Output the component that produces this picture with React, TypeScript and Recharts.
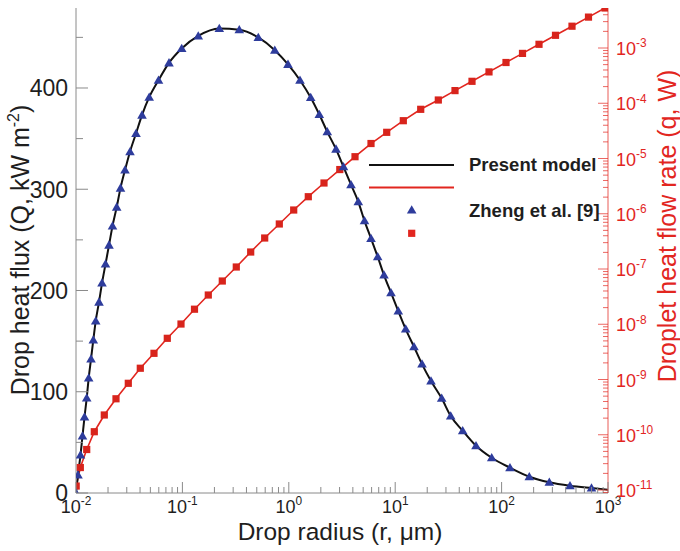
import React from "react";
import { ComposedChart, Line, XAxis, YAxis, Legend } from "recharts";

const FONT = '"Liberation Sans", Arial, Helvetica, sans-serif';
const AXIS_GRAY = "#8a8a8a";
const TEXT_DARK = "#1e1e1e";
const RED = "#e2261f";
const BLUE = "#2e3c9c";

// plot frame inside the 680x551 svg
const PLOT = { left: 76, right: 608, top: 8, bottom: 493 };

// axis ranges and tick labels
const R_DECADES = [0.01, 0.1, 1, 10, 100, 1000];
const MINOR_MULT = [1, 2, 3, 4, 5, 6, 7, 8, 9];
const FLUX_DOMAIN = [0, 479];
const FLUX_TICKS = [0, 50, 100, 150, 200, 250, 300, 350, 400, 450];
const FLUX_LABELS = [0, 100, 200, 300, 400];
const RATE_DOMAIN = [Math.pow(10, -11.054), Math.pow(10, -2.276)];
const RATE_EXPONENTS = [-12, -11, -10, -9, -8, -7, -6, -5, -4, -3];

// Zheng et al. [9] – drop heat flux (kW m^-2) vs drop radius (um)
const ZHENG_R = [
  0.01, 0.01044, 0.01102, 0.01151, 0.01202, 0.01261, 0.01316, 0.01384, 0.01454,
  0.01532, 0.01645, 0.01756, 0.01894, 0.02043, 0.02203, 0.02413, 0.02619, 0.02887,
  0.03218, 0.03664, 0.04172, 0.04875, 0.05962, 0.07481, 0.09849, 0.141, 0.2222,
  0.3425, 0.5168, 0.7385, 0.9829, 1.274, 1.606, 1.935, 2.3, 2.777, 3.267, 3.843,
  4.5, 5.146, 5.924, 6.847, 7.848, 9.131, 10.69, 12.55, 15.02, 17.86, 21.7, 27.35,
  33.24, 43.09, 57.46, 80.72, 119.9, 182.1, 280.8, 439.4, 699.6,
];
const ZHENG_Q = [
  0, 17.8, 37.5, 56.3, 75.0, 93.8, 113.5, 132.3, 151.0, 169.8, 188.5, 207.3, 226.1,
  244.8, 263.6, 282.3, 301.1, 318.9, 337.1, 355.1, 373.2, 390.9, 407.7, 424.8, 439.0,
  451.4, 458.7, 457.5, 449.9, 437.3, 423.3, 407.7, 390.6, 373.8, 356.7, 339.6, 322.1,
  304.5, 287.6, 268.8, 251.4, 233.3, 215.2, 197.7, 179.7, 161.9, 144.4, 127.3, 110.6,
  93.5, 76.0, 61.5, 46.7, 34.8, 25.0, 16.1, 10.6, 7.2, 4.9,
];

// present model flux curve runs on to the 1 mm end of the axis
const MODEL_R = [...ZHENG_R, 1000];
const MODEL_Q = [...ZHENG_Q, 3.3];

// Zheng et al. [9] – droplet heat flow rate (W) vs drop radius (um)
const RATE_R = [
  0.01004, 0.01098, 0.01261, 0.01486, 0.01845, 0.02376, 0.03101, 0.04021, 0.05406,
  0.07212, 0.09701, 0.1299, 0.1751, 0.2371, 0.321, 0.4384, 0.5935, 0.8143, 1.112,
  1.525, 2.142, 3.015, 4.191, 5.924, 8.322, 11.92, 17.37, 25.42, 36.48, 52.71, 76.13,
  110.0, 157.2, 224.7, 321.1, 458.9, 655.6, 937,
];
const RATE_Q = [
  1.18e-11, 2.55e-11, 5.41e-11, 1.135e-10, 2.28e-10, 4.48e-10, 8.54e-10, 1.6e-9,
  2.98e-9, 5.57e-9, 1.01e-8, 1.873e-8, 3.383e-8, 6.065e-8, 1.087e-7, 2.03e-7, 3.64e-7,
  6.53e-7, 1.169e-6, 2.035e-6, 3.603e-6, 6.31e-6, 1.078e-5, 1.868e-5, 2.979e-5,
  4.833e-5, 7.77e-5, 1.145e-4, 1.694e-4, 2.496e-4, 3.693e-4, 5.465e-4, 7.985e-4,
  1.167e-3, 1.698e-3, 2.48e-3, 3.624e-3, 5.3e-3,
];

const fluxPoints = ZHENG_R.map((r, i) => ({ r, Q: ZHENG_Q[i] }));
const modelFlux = MODEL_R.map((r, i) => ({ r, Q: MODEL_Q[i] }));
const ratePoints = RATE_R.map((r, i) => ({ r, q: RATE_Q[i] }));

const xTicks = R_DECADES.flatMap((d, i) =>
  i < R_DECADES.length - 1 ? MINOR_MULT.map((m) => d * m) : [d]
);
const rateTicks = RATE_EXPONENTS.flatMap((e) =>
  MINOR_MULT.map((m) => m * Math.pow(10, e))
).filter((v) => v >= RATE_DOMAIN[0] && v <= RATE_DOMAIN[1]);

function decadeOf(v: number) {
  const e = Math.log10(v);
  return Math.abs(e - Math.round(e)) < 1e-6 ? Math.round(e) : null;
}

function Pow10({ x, y, exp, anchor, size, fill }: any) {
  return (
    <text x={x} y={y} textAnchor={anchor} fontSize={size} fill={fill} fontFamily={FONT}>
      10
      <tspan dy={-size * 0.42} fontSize={size * 0.66}>
        {exp}
      </tspan>
    </text>
  );
}

function BottomTick({ x, payload }: any) {
  const exp = decadeOf(payload.value);
  return (
    <g>
      <line x1={x} x2={x} y1={PLOT.bottom} y2={PLOT.bottom - (exp !== null ? 11 : 6)} stroke={AXIS_GRAY} />
      {exp !== null && <Pow10 x={x} y={PLOT.bottom + 20} exp={exp} anchor="middle" size={18} fill={TEXT_DARK} />}
    </g>
  );
}

function TopTick({ x, payload }: any) {
  const exp = decadeOf(payload.value);
  return <line x1={x} x2={x} y1={PLOT.top} y2={PLOT.top + (exp !== null ? 11 : 6)} stroke={AXIS_GRAY} />;
}

function LeftTick({ y, payload }: any) {
  const labeled = FLUX_LABELS.includes(payload.value);
  return (
    <g>
      <line x1={PLOT.left} x2={PLOT.left + (labeled ? 12 : 7)} y1={y} y2={y} stroke={AXIS_GRAY} />
      {labeled && (
        <text x={PLOT.left - 8} y={y} dy="0.36em" textAnchor="end" fontSize={23} fill={TEXT_DARK} fontFamily={FONT}>
          {payload.value}
        </text>
      )}
    </g>
  );
}

function RightTick({ y, payload }: any) {
  const exp = decadeOf(payload.value);
  return (
    <g>
      <line x1={PLOT.right} x2={PLOT.right - (exp !== null ? 10 : 5)} y1={y} y2={y} stroke={RED} strokeOpacity={0.7} />
      {exp !== null && <Pow10 x={PLOT.right + 8} y={y + 7} exp={exp} anchor="start" size={18} fill={RED} />}
    </g>
  );
}

function Triangle({ cx, cy, fill }: any) {
  if (cx == null || cy == null) return null;
  return <path d={`M${cx},${cy - 4.8} L${cx + 4.8},${cy + 3.5} L${cx - 4.8},${cy + 3.5} Z`} fill={fill} />;
}

function Square({ cx, cy, fill }: any) {
  if (cx == null || cy == null) return null;
  return <rect x={cx - 3.6} y={cy - 3.6} width={7.2} height={7.2} fill={fill} />;
}

function LegendBox() {
  // wrapper sits at (360, 150)
  return (
    <svg width={260} height={100} style={{ display: "block" }}>
      <line x1={9} x2={94} y1={15} y2={15} stroke="#111" strokeWidth={2} />
      <line x1={9} x2={94} y1={37.5} y2={37.5} stroke={RED} strokeWidth={1.8} />
      <Triangle cx={51.7} cy={60} fill={BLUE} />
      <Square cx={51.7} cy={83.3} fill={RED} />
      <text x={109} y={21} fontSize={18.5} fontWeight="bold" fill={TEXT_DARK} fontFamily={FONT}>
        Present model
      </text>
      <text x={109} y={67} fontSize={18.5} fontWeight="bold" fill={TEXT_DARK} fontFamily={FONT}>
        Zheng et al. [9]
      </text>
    </svg>
  );
}

export default function App() {
  return (
    <div style={{ position: "absolute", left: 0, top: 0, background: "#fff" }}>
      <ComposedChart width={680} height={551} margin={{ top: PLOT.top, right: 0, bottom: 0, left: 0 }}>
        <XAxis
          xAxisId="bottom"
          dataKey="r"
          type="number"
          scale="log"
          domain={[0.01, 1000]}
          allowDataOverflow
          ticks={xTicks}
          interval={0}
          height={551 - PLOT.bottom}
          tickLine={false}
          axisLine={{ stroke: AXIS_GRAY }}
          tick={BottomTick}
          label={{
            content: () => (
              <text x={340} y={540} textAnchor="middle" fontSize={24.5} fill={TEXT_DARK} fontFamily={FONT}>
                Drop radius (r, μm)
              </text>
            ),
          }}
        />
        <XAxis
          xAxisId="top"
          orientation="top"
          dataKey="r"
          type="number"
          scale="log"
          domain={[0.01, 1000]}
          allowDataOverflow
          ticks={xTicks}
          interval={0}
          height={0}
          tickLine={false}
          axisLine={{ stroke: AXIS_GRAY }}
          tick={TopTick}
        />
        <YAxis
          yAxisId="flux"
          type="number"
          domain={FLUX_DOMAIN}
          allowDataOverflow
          ticks={FLUX_TICKS}
          interval={0}
          width={PLOT.left}
          tickLine={false}
          axisLine={{ stroke: AXIS_GRAY }}
          tick={LeftTick}
          label={{
            content: () => (
              <text
                x={29}
                y={250}
                transform="rotate(-90 29 250)"
                textAnchor="middle"
                fontSize={25}
                fill={TEXT_DARK}
                fontFamily={FONT}
              >
                Drop heat flux (Q, kW m
                <tspan dy={-10} fontSize={16}>
                  -2
                </tspan>
                <tspan dy={10}>)</tspan>
              </text>
            ),
          }}
        />
        <YAxis
          yAxisId="rate"
          orientation="right"
          type="number"
          scale="log"
          domain={RATE_DOMAIN}
          allowDataOverflow
          ticks={rateTicks}
          interval={0}
          width={680 - PLOT.right}
          tickLine={false}
          axisLine={{ stroke: RED, strokeOpacity: 0.75 }}
          tick={RightTick}
          label={{
            content: () => (
              <text
                x={676}
                y={226}
                transform="rotate(-90 676 226)"
                textAnchor="middle"
                fontSize={25}
                fill={RED}
                fontFamily={FONT}
              >
                Droplet heat flow rate (q, W)
              </text>
            ),
          }}
        />
        <Legend
          layout="horizontal"
          verticalAlign="middle"
          align="center"
          wrapperStyle={{ left: 360, top: 150, width: 260, height: 100 }}
          content={() => <LegendBox />}
        />
        <Line
          data={ratePoints}
          xAxisId="bottom"
          yAxisId="rate"
          dataKey="q"
          type="linear"
          stroke={RED}
          strokeWidth={1.6}
          dot={false}
          activeDot={false}
          isAnimationActive={false}
        />
        <Line
          data={modelFlux}
          xAxisId="bottom"
          yAxisId="flux"
          dataKey="Q"
          type="monotone"
          stroke="#111"
          strokeWidth={2}
          dot={false}
          activeDot={false}
          isAnimationActive={false}
        />
        <Line
          data={ratePoints}
          xAxisId="bottom"
          yAxisId="rate"
          dataKey="q"
          stroke="none"
          dot={(p: any) => <Square key={`s${p.index}`} cx={p.cx} cy={p.cy} fill="#d8241c" />}
          activeDot={false}
          isAnimationActive={false}
        />
        <Line
          data={fluxPoints}
          xAxisId="bottom"
          yAxisId="flux"
          dataKey="Q"
          stroke="none"
          dot={(p: any) => <Triangle key={`t${p.index}`} cx={p.cx} cy={p.cy} fill={BLUE} />}
          activeDot={false}
          isAnimationActive={false}
        />
      </ComposedChart>
    </div>
  );
}
